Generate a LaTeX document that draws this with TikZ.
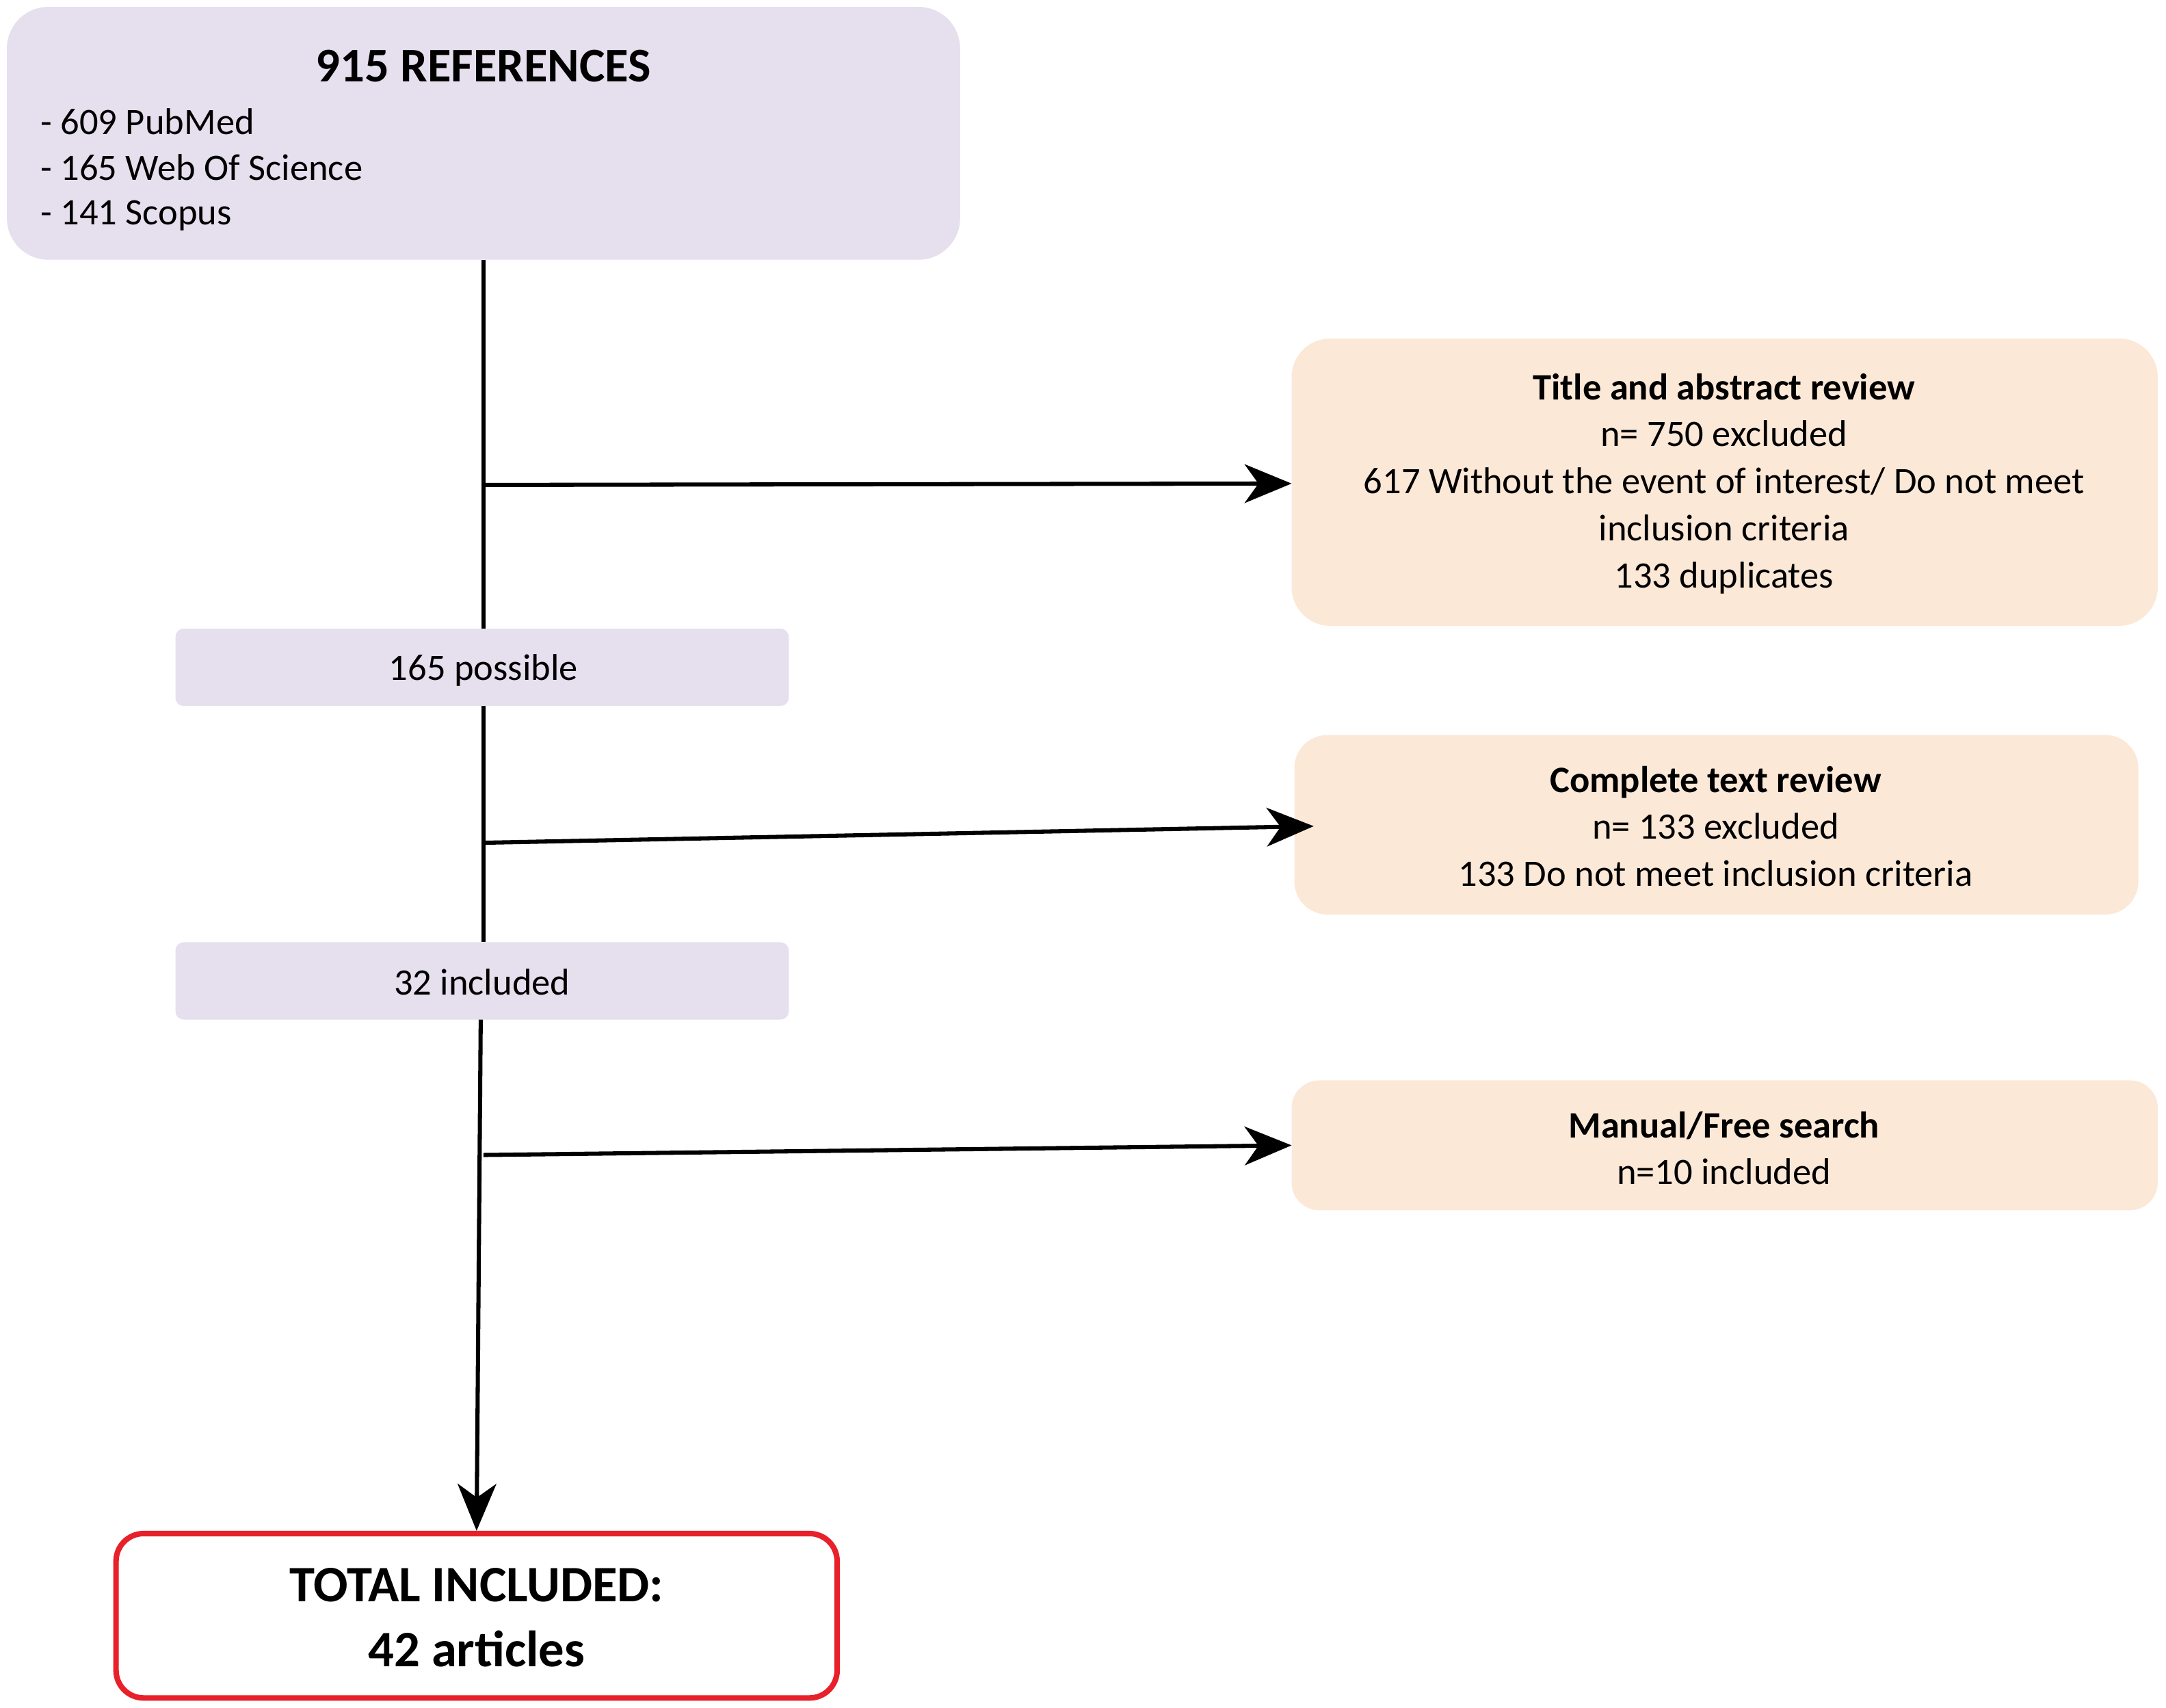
\documentclass[tikz,border=0pt]{standalone}
\usepackage{fontspec}
\setmainfont{Carlito}
\usetikzlibrary{arrows.meta}
\definecolor{lav}{HTML}{E5DFEE}
\definecolor{peach}{HTML}{FCE8D7}
\definecolor{redb}{HTML}{E8202A}
\begin{document}
\begin{tikzpicture}[x=1pt,y=-1pt,
  lavbox/.style={draw=none,fill=lav,rounded corners=#1},
  pbox/.style={fill=peach,rounded corners=28pt},
  txt/.style={font=\fontsize{27}{34}\selectfont,align=center},
  conn/.style={line width=3pt},
  arr/.style={line width=3pt,-{Stealth[length=34pt,width=28pt,inset=10pt]}}]
\useasboundingbox (0,0) rectangle (1568,1236);
% top box
\path[lavbox=30pt] (5,5) rectangle (695,188);
\node[font=\fontsize{35}{42}\selectfont\bfseries] (toptitle) at (350,48) {915 REFERENCES};
\node[txt,anchor=west] (l1) at (26,88) {- 609 PubMed};
\node[txt,anchor=west] (l2) at (26,121) {- 165 Web Of Science};
\node[txt,anchor=west] (l3) at (26,156) {- 141 Scopus};
% right boxes
\path[pbox] (935,245) rectangle (1562,453);
\node[txt] (tar) at (1248,350) {\textbf{Title and abstract review}\\n= 750 excluded\\617 Without the event of interest/ Do not meet\\inclusion criteria\\133 duplicates};
\path[pbox,rounded corners=24pt] (937,532) rectangle (1548,662);
\node[txt] (ctr) at (1242,598) {\textbf{Complete text review}\\n= 133 excluded\\133 Do not meet inclusion criteria};
\path[pbox,rounded corners=20pt] (935,782) rectangle (1562,876);
\node[txt] (man) at (1248,831) {\textbf{Manual/Free search}\\n=10 included};
% mid boxes
\path[lavbox=6pt] (127,455) rectangle (571,511);
\node[txt] (p165) at (350,485) {165 possible};
\path[lavbox=6pt] (127,682) rectangle (571,738);
\node[txt] (i32) at (349,711) {32 included};
% total
\draw[redb,line width=4pt,rounded corners=20pt,fill=white] (84,1110) rectangle (606,1229);
\node[font=\fontsize{37}{47}\selectfont\bfseries,align=center] (tot) at (345,1171) {TOTAL INCLUDED:\\42 articles};
% connectors
\coordinate (a) at (350,188); \coordinate (b) at (350,455);
\coordinate (c) at (350,511); \coordinate (d) at (350,682);
\coordinate (e) at (348,738); \coordinate (f) at (345,1108);
\coordinate (j1) at (350,351); \coordinate (t1) at (935,350);
\coordinate (j2) at (350,610); \coordinate (t2) at (951,598);
\coordinate (j3) at (350,836); \coordinate (t3) at (935,829);
\draw[conn] (a) -- (b);
\draw[conn] (c) -- (d);
\draw[arr] (e) -- (f);
\draw[arr] (j1) -- (t1);
\draw[arr] (j2) -- (t2);
\draw[arr] (j3) -- (t3);
\end{tikzpicture}
\end{document}
